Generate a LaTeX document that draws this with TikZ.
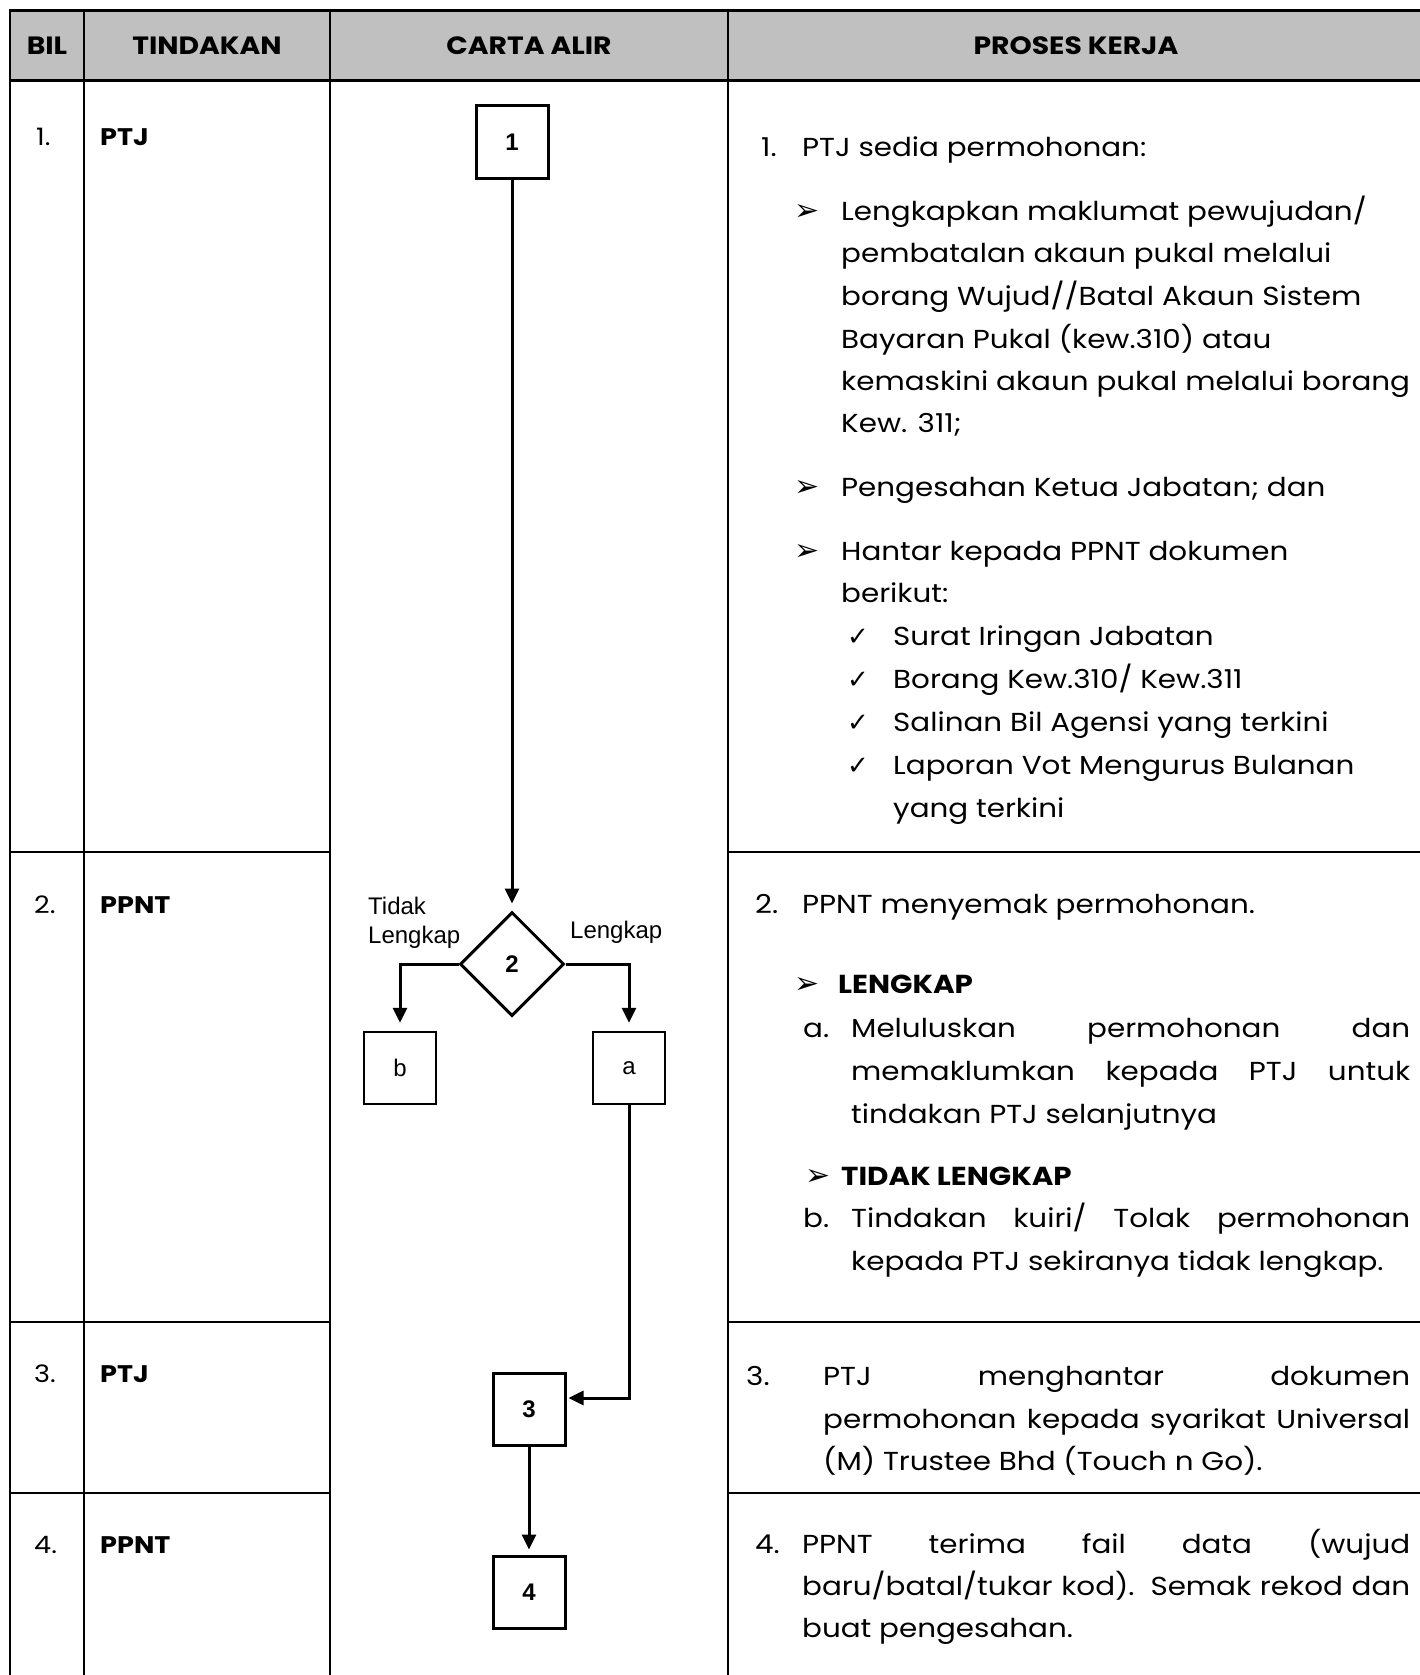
\documentclass[tikz,border=0pt]{standalone}
\usepackage{fontspec}
\setmainfont[FakeStretch=1.13]{Poppins}
\newfontfamily\arialf{Liberation Sans}
\newfontfamily\djv{DejaVu Sans}
\usetikzlibrary{arrows.meta,shapes.geometric}
\definecolor{hdrgray}{RGB}{192,192,192}
\newcommand\jline[2]{\hbox to #1{\spaceskip=0.25em plus 1fil\relax #2}}
\newcommand\abul{{\djv\fontsize{30}{34}\selectfont ➢}}
\newcommand\cbul{{\djv\fontsize{26}{30}\selectfont ✓}}
\begin{document}
\begin{tikzpicture}[x=1pt,y=-1pt,
  thickrule/.style={line width=3pt},
  rule/.style={line width=2pt},
  hdr/.style={inner sep=0pt, font=\fontsize{25}{30}\selectfont\bfseries},
  body/.style={anchor=base west, inner sep=0pt, font=\fontsize{26}{31}\selectfont},
  bodyb/.style={anchor=base west, inner sep=0pt, font=\fontsize{26}{31}\selectfont\bfseries},
  colb/.style={anchor=base west, inner sep=0pt, font=\fontsize{24}{29}\selectfont\bfseries},
  coln/.style={anchor=base west, inner sep=0pt, font=\fontsize{24}{29}\selectfont},
  fbox/.style={draw, line width=3pt, minimum width=72pt, minimum height=72pt, inner sep=0pt, font=\arialf\bfseries\fontsize{24}{28}\selectfont},
  sbox/.style={draw, line width=2.5pt, minimum width=72pt, minimum height=72pt, inner sep=0pt, font=\arialf\fontsize{24}{28}\selectfont},
  dia/.style={draw, diamond, line width=3pt, minimum width=104pt, minimum height=104pt, inner sep=0pt, font=\arialf\bfseries\fontsize{24}{28}\selectfont},
  flab/.style={anchor=base west, inner sep=0pt, font=\arialf\fontsize{24}{28}\selectfont},
  arr/.style={line width=3pt, -{Triangle[width=14pt,length=15pt]}}
]
\useasboundingbox (0,0) rectangle (1420,1675);
% table
\fill[hdrgray] (10,11) rectangle (1420,81);
\draw[rule] (10,11) -- (10,1675);
\draw[rule] (84,11) -- (84,1675);
\draw[rule] (330,11) -- (330,1675);
\draw[rule] (728,11) -- (728,1675);
\draw[thickrule] (9,11) -- (1420,11);
\draw[thickrule] (9,81) -- (1420,81);
\foreach \yy in {852,1322,1493}{
  \draw[rule] (10,\yy) -- (330,\yy);
  \draw[rule] (728,\yy) -- (1420,\yy);
}
% header
\node[hdr] (hBil) at (47,46) {BIL};
\node[hdr] (hTin) at (207,46) {TINDAKAN};
\node[hdr] (hCar) at (529,46) {CARTA ALIR};
\node[hdr] (hPro) at (1076,46) {PROSES KERJA};
% bil / tindakan
\node[coln] (n1) at (36,146) {1.};
\node[colb] (t1) at (100,146) {PTJ};
\node[coln] (n2) at (34,913) {2.};
\node[colb] (t2) at (100,913) {PPNT};
\node[coln] (n3) at (34,1382) {3.};
\node[colb] (t3) at (100,1382) {PTJ};
\node[coln] (n4) at (34,1553) {4.};
\node[colb] (t4) at (100,1553) {PPNT};
% flowchart
\node[fbox] (b1) at (512,142) {1};
\node[dia] (dm) at (512,964) {2};
\node[sbox] (bb) at (400,1068) {b};
\node[sbox] (ba) at (629,1068) {a};
\node[fbox] (b3) at (529,1409) {3};
\node[fbox] (b4) at (529,1592) {4};
\node[flab] (lt1) at (368,914) {Tidak};
\node[flab] (lt2) at (368,943) {Lengkap};
\node[flab] (lr) at (570,938) {Lengkap};
\draw[arr, shorten >=7pt] (b1.south) -- (dm.north);
\draw[arr, shorten >=8pt] (dm.west) -| (bb.north);
\draw[arr, shorten >=8pt] (dm.east) -| (ba.north);
\draw[arr, shorten >=2pt] (ba.south) |- ([yshift=11pt]b3.east);
\draw[arr, shorten >=5pt] (b3.south) -- (b4.north);
% proses kerja
\node[body] (p1n) at (761,157) {1.};
\node[body] (p1) at (802,157) {PTJ sedia permohonan:};
\node[body] (p1ab) at (794,220) {\abul};
\node[body] (p1a1) at (841,220) {Lengkapkan maklumat pewujudan/};
\node[body] (p1a2) at (841,262) {pembatalan akaun pukal melalui};
\node[body] (p1a3) at (841,305) {borang Wujud//Batal Akaun Sistem};
\node[body] (p1a4) at (841,348) {Bayaran Pukal (kew.310) atau};
\node[body] (p1a5) at (841,390) {kemaskini akaun pukal melalui borang};
\node[body] (p1a6) at (841,432) {Kew. 311;};
\node[body] (p1bb) at (794,496) {\abul};
\node[body] (p1b1) at (841,496) {Pengesahan Ketua Jabatan; dan};
\node[body] (p1cb) at (794,560) {\abul};
\node[body] (p1c1) at (841,560) {Hantar kepada PPNT dokumen};
\node[body] (p1c2) at (841,602) {berikut:};
\node[body] (k1b) at (847,645) {\cbul};
\node[body] (k1) at (893,645) {Surat Iringan Jabatan};
\node[body] (k2b) at (847,688) {\cbul};
\node[body] (k2) at (893,688) {Borang Kew.310/ Kew.311};
\node[body] (k3b) at (847,731) {\cbul};
\node[body] (k3) at (893,731) {Salinan Bil Agensi yang terkini};
\node[body] (k4b) at (847,774) {\cbul};
\node[body] (k4) at (893,774) {Laporan Vot Mengurus Bulanan};
\node[body] (k4c) at (893,817) {yang terkini};
\node[body] (p2n) at (755,913) {2.};
\node[body] (p2) at (802,913) {PPNT menyemak permohonan.};
\node[body] (p2ab) at (794,993) {\abul};
\node[bodyb] (p2a) at (838,993) {LENGKAP};
\node[body] (p2an) at (803,1037) {a.};
\node[body] (p2a1) at (851,1037) {\jline{559pt}{Meluluskan permohonan dan}};
\node[body] (p2a2) at (851,1080) {\jline{559pt}{memaklumkan kepada PTJ untuk}};
\node[body] (p2a3) at (851,1123) {tindakan PTJ selanjutnya};
\node[body] (p2bb) at (805,1185) {\abul};
\node[bodyb] (p2b) at (841,1185) {TIDAK LENGKAP};
\node[body] (p2bn) at (803,1227) {b.};
\node[body] (p2b1) at (851,1227) {\jline{559pt}{Tindakan kuiri/ Tolak permohonan}};
\node[body] (p2b2) at (851,1270) {kepada PTJ sekiranya tidak lengkap.};
\node[body] (p3n) at (746,1385) {3.};
\node[body] (p31) at (823,1385) {\jline{587pt}{PTJ menghantar dokumen}};
\node[body] (p32) at (823,1428) {\jline{587pt}{permohonan kepada syarikat Universal}};
\node[body] (p33) at (823,1470) {(M) Trustee Bhd (Touch n Go).};
\node[body] (p4n) at (755,1553) {4.};
\node[body] (p41) at (802,1553) {\jline{608pt}{PPNT terima fail data (wujud}};
\node[body] (p42) at (802,1595) {\jline{608pt}{baru/batal/tukar kod). Semak rekod dan}};
\node[body] (p43) at (802,1637) {buat pengesahan.};
\end{tikzpicture}
\end{document}
